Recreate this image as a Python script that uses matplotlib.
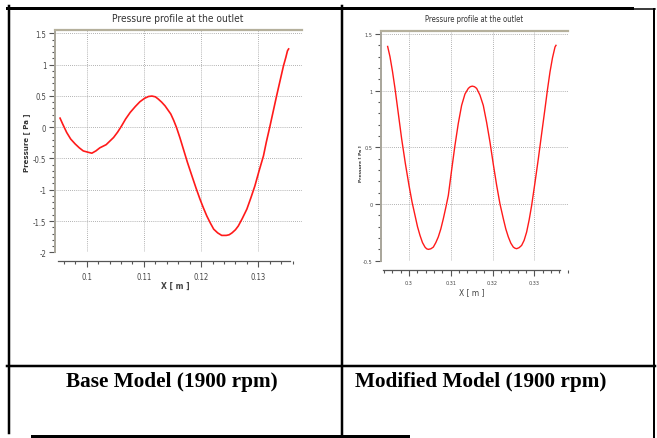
import matplotlib
matplotlib.use('Agg')
import matplotlib.pyplot as plt
from matplotlib.lines import Line2D
from matplotlib.ticker import MultipleLocator
from matplotlib import font_manager

# base model curve (x [m], pressure [Pa])
base_x = [0.09534, 0.0958, 0.0965, 0.0972, 0.0980, 0.0987, 0.0994, 0.1002, 0.1009,
          0.1016, 0.1023, 0.1034, 0.1047, 0.1054, 0.1061, 0.1068, 0.1076, 0.1085,
          0.1093, 0.1101, 0.1108, 0.1114, 0.1120, 0.1125, 0.1131, 0.1137, 0.1147,
          0.1152, 0.1157, 0.1163, 0.1169, 0.1176, 0.1184, 0.1191, 0.1198, 0.1204,
          0.1210, 0.1216, 0.1222, 0.1229, 0.1236, 0.1244, 0.1249, 0.1254, 0.1260,
          0.1265, 0.1272, 0.1280, 0.1287, 0.1294, 0.1301, 0.1309, 0.1314, 0.1320,
          0.1326, 0.1332, 0.1338, 0.1344, 0.1348, 0.1351, 0.1353]
base_p = [0.144, 0.05, -0.085, -0.19, -0.27, -0.33, -0.38, -0.40, -0.416,
          -0.38, -0.33, -0.28, -0.165, -0.08, 0.02, 0.13, 0.235, 0.33,
          0.406, 0.46, 0.49, 0.497, 0.485, 0.45, 0.40, 0.34, 0.21,
          0.11, -0.005, -0.17, -0.35, -0.56, -0.78, -0.97, -1.15, -1.29,
          -1.42, -1.53, -1.63, -1.69, -1.73, -1.73, -1.72, -1.69, -1.64,
          -1.58, -1.46, -1.31, -1.13, -0.94, -0.71, -0.46, -0.24, 0.0,
          0.25, 0.50, 0.74, 0.98, 1.11, 1.22, 1.25]

# modified model curve
mod_x = [0.29489, 0.29545, 0.29605, 0.29665, 0.29744, 0.29824, 0.29912, 0.30000,
         0.30072, 0.30144, 0.30204, 0.30263, 0.30323, 0.30383, 0.30423, 0.30463,
         0.30523, 0.30583, 0.30643, 0.30702, 0.30762, 0.30822, 0.30882, 0.30942,
         0.31021, 0.31101, 0.31180, 0.31260, 0.31340, 0.31420, 0.31468, 0.31516,
         0.31568, 0.31620, 0.31700, 0.31779, 0.31859, 0.31939, 0.32019, 0.32099,
         0.32179, 0.32259, 0.32318, 0.32378, 0.32438, 0.32498, 0.32538, 0.32578,
         0.32637, 0.32697, 0.32757, 0.32817, 0.32877, 0.32937, 0.33017, 0.33097,
         0.33176, 0.33256, 0.33316, 0.33376, 0.33436, 0.33496, 0.33520]
mod_p = [1.39, 1.30, 1.17, 1.02, 0.80, 0.576, 0.36, 0.165,
         0.02, -0.10, -0.20, -0.276, -0.34, -0.38, -0.395, -0.40,
         -0.395, -0.38, -0.34, -0.29, -0.22, -0.13, -0.03, 0.076,
         0.30, 0.518, 0.71, 0.87, 0.97, 1.02, 1.035, 1.04,
         1.035, 1.02, 0.96, 0.87, 0.72, 0.547, 0.35, 0.165,
         0.00, -0.13, -0.22, -0.29, -0.345, -0.38, -0.39, -0.394,
         -0.385, -0.365, -0.32, -0.247, -0.14, -0.012, 0.19, 0.40,
         0.62, 0.84, 1.01, 1.165, 1.29, 1.385, 1.40]

base_xticks = [0.1, 0.11, 0.12, 0.13]
base_xlabels = ['0.1', '0.11', '0.12', '0.13']
base_yticks = [1.5, 1, 0.5, 0, -0.5, -1, -1.5, -2]
base_ylabels = ['1.5', '1', '0.5', '0', '-0.5', '-1', '-1.5', '-2']
mod_xticks = [0.3, 0.31, 0.32, 0.33]
mod_xlabels = ['0.3', '0.31', '0.32', '0.33']
mod_yticks = [1.5, 1, 0.5, 0, -0.5]
mod_ylabels = ['1.5', '1', '0.5', '0', '-0.5']

title = 'Pressure profile at the outlet'
captions = ['Base Model (1900 rpm)', 'Modified Model (1900 rpm)']

W, H = 657, 439
fig = plt.figure(figsize=(W / 100, H / 100), dpi=100)

# narrow face if one is installed
names = {f.name for f in font_manager.fontManager.ttflist}
narrow = 'Liberation Sans Narrow' if 'Liberation Sans Narrow' in names else 'DejaVu Sans'
NARROW = dict(family=narrow, stretch='condensed')


def box(l, t, r, b):
    return [l / W, 1 - b / H, (r - l) / W, (b - t) / H]


def setup(ax, xlim, ylim, xb, xt, xl, yt, yl, off, fs, xpad):
    ax.set_xlim(*xlim)
    ax.set_ylim(*ylim)
    ax.spines['right'].set_visible(False)
    ax.spines['left'].set_color('#a8a59a')
    ax.spines['left'].set_linewidth(1.4)
    ax.spines['top'].set_color('#b5b09c')
    ax.spines['top'].set_linewidth(1.6)
    ax.spines['bottom'].set_position(('outward', off))
    ax.spines['bottom'].set_bounds(*xb)
    ax.spines['bottom'].set_color('#555555')
    ax.spines['bottom'].set_linewidth(0.9)
    ax.set_xticks(xt)
    ax.set_xticklabels(xl)
    ax.set_yticks(yt)
    ax.set_yticklabels(yl)
    ax.xaxis.set_minor_locator(MultipleLocator(0.002))
    ax.yaxis.set_minor_locator(MultipleLocator(0.1))
    ax.tick_params(which='major', length=4, width=0.8, color='#555555',
                   labelsize=fs, labelcolor='#444444', pad=2)
    ax.tick_params(axis='x', which='major', pad=xpad)
    ax.tick_params(which='minor', length=2.5, width=0.8, color='#555555')
    ax.grid(True, which='major', color='#999999', linestyle=(0, (1, 1.5)), linewidth=0.6)
    for lab in ax.get_xticklabels() + ax.get_yticklabels():
        lab.set_family(NARROW['family'])
        lab.set_fontstretch('condensed')


ax1 = fig.add_axes(box(54.5, 30.7, 302, 253.3))
setup(ax1, (0.09437, 0.13764), (-2, 1.5575), (0.095, 0.1355),
      base_xticks, base_xlabels, base_yticks, base_ylabels, 6, 5.5, 4)
ax1.plot(base_x, base_p, color='#ff1a1a', linewidth=1.2)

ax2 = fig.add_axes(box(381, 31.7, 567.7, 261.7))
setup(ax2, (0.2933, 0.3380), (-0.5, 1.529), (0.2938, 0.3362),
      mod_xticks, mod_xlabels, mod_yticks, mod_ylabels, 6.6, 4, 3)
ax2.plot(mod_x, mod_p, color='#ff1a1a', linewidth=1.0)

# titles and axis labels placed in pixel positions
fig.text(178 / W, 1 - 19 / H, title, ha='center', va='center', fontsize=7.3,
         color='#333333', **NARROW)
fig.text(474 / W, 1 - 19 / H, title, ha='center', va='center', fontsize=5.5,
         color='#333333', **NARROW)
fig.text(27 / W, 1 - 143 / H, 'Pressure [ Pa ]', ha='center', va='center',
         rotation=90, fontsize=5, fontweight='bold', color='#333333')
fig.text(361 / W, 1 - 164 / H, 'Pressure [ Pa ]', ha='center', va='center',
         rotation=90, fontsize=3.2, fontweight='bold', color='#333333')
fig.text(175 / W, 1 - 286 / H, 'X [ m ]', ha='center', va='center',
         fontsize=5.5, fontweight='bold', color='#444444')
fig.text(472 / W, 1 - 293 / H, 'X [ m ]', ha='center', va='center',
         fontsize=6, color='#444444', **NARROW)


# table borders
def hline(y, x0, x1, px):
    fig.add_artist(Line2D([x0 / W, x1 / W], [1 - y / H, 1 - y / H],
                          color='black', linewidth=px * 0.72, transform=fig.transFigure))


def vline(x, y0, y1, px):
    fig.add_artist(Line2D([x / W, x / W], [1 - y0 / H, 1 - y1 / H],
                          color='black', linewidth=px * 0.72, transform=fig.transFigure))


hline(8.5, 7, 632, 3)
hline(10, 632, 655, 1.5)
vline(8.5, 7, 434, 2.5)
vline(341.5, 7, 437, 2.5)
vline(653.5, 10, 439, 2)
hline(366.5, 7, 655, 2.5)
hline(437, 32, 408, 3)

fig.text(172 / W, 1 - 382 / H, captions[0], ha='center', va='center',
         fontsize=15.3, fontweight='bold', family='Liberation Serif')
fig.text(481 / W, 1 - 382 / H, captions[1], ha='center', va='center',
         fontsize=15.3, fontweight='bold', family='Liberation Serif')

fig.savefig('out.png', dpi=100)
